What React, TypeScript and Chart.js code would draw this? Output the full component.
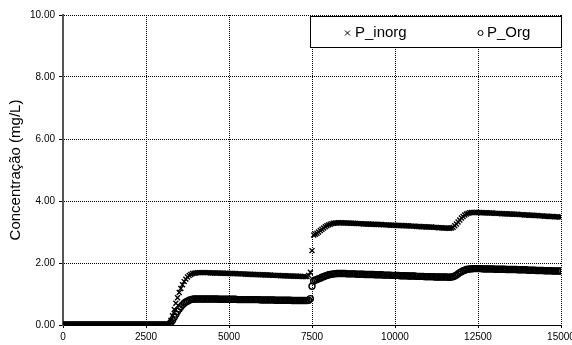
import React, { useEffect, useRef } from "react";
import { Chart, registerables } from "chart.js";

Chart.register(...registerables);

// Sampling times (same for both series), step 50
const TIME: number[] = Array.from({ length: 301 }, (_, i) => i * 50);

// P_inorg values (mg/L)
const P_INORG: number[] = [
  // 0 - 3150
  0, 0, 0, 0, 0, 0, 0, 0, 0, 0, 0, 0, 0, 0, 0, 0,
  0, 0, 0, 0, 0, 0, 0, 0, 0, 0, 0, 0, 0, 0, 0, 0,
  0, 0, 0, 0, 0, 0, 0, 0, 0, 0, 0, 0, 0, 0, 0, 0,
  0, 0, 0, 0, 0, 0, 0, 0, 0, 0, 0, 0, 0, 0, 0, 0,
  // 3200 - 4200
  0.03, 0.15, 0.3, 0.5, 0.7, 0.88, 1.05, 1.18, 1.3, 1.4, 1.48,
  1.55, 1.6, 1.63, 1.66, 1.67, 1.68, 1.69, 1.69, 1.69, 1.69,
  // 4250 - 7350
  1.69, 1.69, 1.69, 1.69, 1.68, 1.68, 1.68, 1.68, 1.68, 1.68,
  1.67, 1.67, 1.67, 1.67, 1.67, 1.66, 1.66, 1.66, 1.66, 1.66,
  1.65, 1.65, 1.65, 1.65, 1.65, 1.64, 1.64, 1.64, 1.64, 1.63,
  1.63, 1.63, 1.63, 1.62, 1.62, 1.62, 1.62, 1.61, 1.61, 1.61,
  1.61, 1.6, 1.6, 1.6, 1.6, 1.6, 1.59, 1.59, 1.59, 1.59,
  1.58, 1.58, 1.58, 1.58, 1.57, 1.57, 1.57, 1.57, 1.57, 1.56,
  1.56, 1.56, 1.56,
  // 7400 - 8300
  1.6, 1.7, 2.4, 2.9, 2.93, 2.96, 3.0, 3.05, 3.09, 3.13,
  3.17, 3.2, 3.23, 3.25, 3.27, 3.28, 3.29, 3.29, 3.3,
  // 8350 - 11650
  3.3, 3.3, 3.29, 3.29, 3.29, 3.29, 3.28, 3.28, 3.28, 3.28,
  3.27, 3.27, 3.27, 3.27, 3.26, 3.26, 3.26, 3.26, 3.25, 3.25,
  3.25, 3.25, 3.24, 3.24, 3.24, 3.24, 3.23, 3.23, 3.23, 3.23,
  3.22, 3.22, 3.22, 3.22, 3.21, 3.21, 3.21, 3.21, 3.2, 3.2,
  3.2, 3.2, 3.19, 3.19, 3.19, 3.19, 3.18, 3.18, 3.18, 3.17,
  3.17, 3.17, 3.16, 3.16, 3.16, 3.16, 3.15, 3.15, 3.15, 3.14,
  3.14, 3.14, 3.13, 3.13, 3.13, 3.12, 3.12,
  // 11700 - 12400
  3.13, 3.15, 3.2, 3.26, 3.32, 3.39, 3.45, 3.5, 3.55, 3.58,
  3.6, 3.62, 3.63, 3.63, 3.63,
  // 12450 - 15000
  3.63, 3.63, 3.63, 3.62, 3.62, 3.62, 3.62, 3.61, 3.61, 3.61,
  3.61, 3.6, 3.6, 3.6, 3.6, 3.59, 3.59, 3.59, 3.59, 3.58,
  3.58, 3.58, 3.57, 3.57, 3.57, 3.57, 3.56, 3.56, 3.56, 3.55,
  3.55, 3.55, 3.54, 3.54, 3.54, 3.53, 3.53, 3.53, 3.52, 3.52,
  3.52, 3.51, 3.51, 3.51, 3.5, 3.5, 3.5, 3.49, 3.49, 3.49,
  3.48, 3.48,
];

// P_Org values (mg/L)
const P_ORG: number[] = [
  // 0 - 3150
  0, 0, 0, 0, 0, 0, 0, 0, 0, 0, 0, 0, 0, 0, 0, 0,
  0, 0, 0, 0, 0, 0, 0, 0, 0, 0, 0, 0, 0, 0, 0, 0,
  0, 0, 0, 0, 0, 0, 0, 0, 0, 0, 0, 0, 0, 0, 0, 0,
  0, 0, 0, 0, 0, 0, 0, 0, 0, 0, 0, 0, 0, 0, 0, 0,
  // 3200 - 4200
  0.02, 0.08, 0.15, 0.25, 0.35, 0.44, 0.52, 0.59, 0.65, 0.7, 0.74,
  0.77, 0.8, 0.82, 0.83, 0.84, 0.84, 0.84, 0.84, 0.84, 0.84,
  // 4250 - 7350
  0.84, 0.84, 0.84, 0.84, 0.84, 0.84, 0.84, 0.84, 0.84, 0.83,
  0.83, 0.83, 0.83, 0.83, 0.83, 0.83, 0.83, 0.83, 0.83, 0.83,
  0.82, 0.82, 0.82, 0.82, 0.82, 0.82, 0.82, 0.82, 0.82, 0.82,
  0.82, 0.82, 0.82, 0.82, 0.81, 0.81, 0.81, 0.81, 0.81, 0.81,
  0.81, 0.81, 0.81, 0.8, 0.8, 0.8, 0.8, 0.8, 0.8, 0.8,
  0.8, 0.8, 0.8, 0.79, 0.79, 0.79, 0.79, 0.79, 0.79, 0.79,
  0.79, 0.79, 0.79,
  // 7400 - 8300
  0.8, 0.85, 1.25, 1.42, 1.45, 1.47, 1.49, 1.51, 1.54, 1.56,
  1.58, 1.6, 1.62, 1.63, 1.64, 1.65, 1.65, 1.66, 1.66,
  // 8350 - 11650
  1.66, 1.66, 1.66, 1.66, 1.65, 1.65, 1.65, 1.65, 1.65, 1.65,
  1.64, 1.64, 1.64, 1.64, 1.64, 1.63, 1.63, 1.63, 1.63, 1.63,
  1.63, 1.62, 1.62, 1.62, 1.62, 1.62, 1.61, 1.61, 1.61, 1.61,
  1.61, 1.6, 1.6, 1.6, 1.6, 1.6, 1.59, 1.59, 1.59, 1.59,
  1.59, 1.58, 1.58, 1.58, 1.58, 1.58, 1.57, 1.57, 1.57, 1.57,
  1.57, 1.56, 1.56, 1.56, 1.56, 1.56, 1.56, 1.55, 1.55, 1.55,
  1.55, 1.55, 1.55, 1.55, 1.55, 1.54, 1.54,
  // 11700 - 12400
  1.55, 1.56, 1.58, 1.61, 1.65, 1.69, 1.72, 1.75, 1.77, 1.79,
  1.8, 1.81, 1.81, 1.82, 1.82,
  // 12450 - 15000
  1.82, 1.82, 1.82, 1.82, 1.81, 1.81, 1.81, 1.81, 1.81, 1.81,
  1.81, 1.8, 1.8, 1.8, 1.8, 1.8, 1.8, 1.8, 1.79, 1.79,
  1.79, 1.79, 1.79, 1.79, 1.79, 1.78, 1.78, 1.78, 1.78, 1.78,
  1.78, 1.77, 1.77, 1.77, 1.77, 1.77, 1.76, 1.76, 1.76, 1.76,
  1.76, 1.75, 1.75, 1.75, 1.75, 1.75, 1.74, 1.74, 1.74, 1.74,
  1.74, 1.74,
];

const SERIES_NAMES = ["P_inorg", "P_Org"];
const Y_TITLE = "Concentração (mg/L)";
const X_MIN = 0;
const X_MAX = 15000;
const X_STEP = 2500;
const Y_MIN = 0;
const Y_MAX = 10;
const Y_STEP = 2;

const FONT = "'Liberation Sans', Arial, sans-serif";

const legendPlugin = {
  id: "insideLegend",
  afterDraw(chart: any) {
    const ctx = chart.ctx;
    const x = 310.5, y = 16.5, w = 251, h = 31;
    ctx.save();
    ctx.fillStyle = "#fff";
    ctx.fillRect(x, y, w, h);
    ctx.strokeStyle = "#000";
    ctx.lineWidth = 1;
    ctx.setLineDash([]);
    ctx.strokeRect(x, y, w, h);
    ctx.font = `15px ${FONT}`;
    ctx.fillStyle = "#000";
    ctx.textBaseline = "middle";
    ctx.textAlign = "left";
    const cy = 33;
    // cross marker
    const cx1 = 347.5;
    ctx.beginPath();
    ctx.moveTo(cx1 - 2.5, cy - 2.5);
    ctx.lineTo(cx1 + 2.5, cy + 2.5);
    ctx.moveTo(cx1 + 2.5, cy - 2.5);
    ctx.lineTo(cx1 - 2.5, cy + 2.5);
    ctx.stroke();
    ctx.fillText(chart.data.datasets[0].label, 355, cy);
    // circle marker
    const cx2 = 480.5;
    ctx.beginPath();
    ctx.arc(cx2, cy, 2.5, 0, Math.PI * 2);
    ctx.stroke();
    ctx.fillText(chart.data.datasets[1].label, 487, cy);
    ctx.restore();
  },
};

export default function App() {
  const ref = useRef<HTMLCanvasElement | null>(null);

  useEffect(() => {
    document.body.style.margin = "0";
    const canvas = ref.current;
    if (!canvas) return;
    const chart = new Chart(canvas, {
      type: "scatter",
      data: {
        datasets: [
          {
            label: SERIES_NAMES[0],
            data: TIME.map((t, i) => ({ x: t, y: P_INORG[i] })),
            pointStyle: "crossRot",
            pointRadius: 3.5,
            borderColor: "#000",
            backgroundColor: "#000",
            borderWidth: 1.4,
            showLine: false,
          },
          {
            label: SERIES_NAMES[1],
            data: TIME.map((t, i) => ({ x: t, y: P_ORG[i] })),
            pointStyle: "circle",
            pointRadius: 3,
            borderColor: "#000",
            backgroundColor: "rgba(255,255,255,0)",
            borderWidth: 1.4,
            showLine: false,
          },
        ],
      },
      options: {
        responsive: false,
        animation: false,
        events: [],
        layout: { padding: { left: 0, right: 11, top: 15, bottom: 0 } },
        plugins: {
          legend: { display: false },
          tooltip: { enabled: false },
        },
        scales: {
          x: {
            type: "linear",
            min: X_MIN,
            max: X_MAX,
            ticks: {
              stepSize: X_STEP,
              color: "#000",
              font: { family: FONT, size: 10 },
              maxRotation: 0,
              padding: 3,
              callback: (v: any) => String(v),
            },
            grid: {
              color: "#000",
              lineWidth: 1,
              drawTicks: true,
              tickLength: 3,
            },
            border: { display: true, color: "#000", width: 1, dash: [1, 1] },
            afterFit(scale: any) {
              scale.height = 20;
              scale.paddingLeft = 0;
              scale.paddingRight = 0;
            },
          },
          y: {
            type: "linear",
            min: Y_MIN,
            max: Y_MAX,
            ticks: {
              stepSize: Y_STEP,
              color: "#000",
              font: { family: FONT, size: 10 },
              padding: 4,
              callback: (v: any) => Number(v).toFixed(2),
            },
            grid: {
              color: "#000",
              lineWidth: 1,
              drawTicks: true,
              tickLength: 4,
            },
            border: { display: true, color: "#555", width: 2, dash: [1, 1] },
            title: {
              display: true,
              text: Y_TITLE,
              color: "#000",
              font: { family: FONT, size: 15 },
              padding: { top: 7, bottom: 0 },
            },
            afterFit(scale: any) {
              scale.width = 63;
              scale.paddingTop = 0;
              scale.paddingBottom = 0;
            },
          },
        },
      },
      plugins: [legendPlugin],
    });
    return () => chart.destroy();
  }, []);

  return (
    <div style={{ width: 572, height: 345 }}>
      <canvas ref={ref} width={572} height={345} style={{ display: "block" }} />
    </div>
  );
}
